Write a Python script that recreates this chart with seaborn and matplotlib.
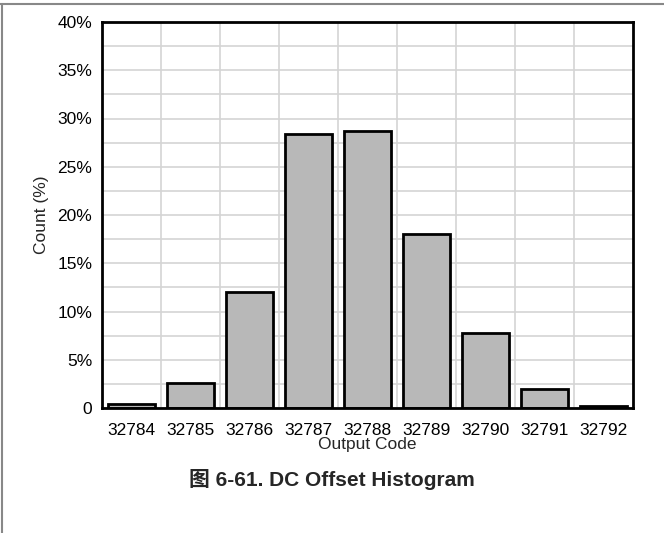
import numpy as np
import pandas as pd
import matplotlib
matplotlib.use('Agg')
import matplotlib.pyplot as plt
import seaborn as sns
from matplotlib.lines import Line2D
from matplotlib.ticker import FuncFormatter

# histogram data
codes = ['32784', '32785', '32786', '32787', '32788', '32789', '32790', '32791', '32792']
counts = [0.4, 2.6, 12.0, 28.4, 28.7, 18.0, 7.8, 2.0, 0.2]

df = pd.DataFrame({'code': codes, 'count': counts})

sns.set_style('white')
plt.rcParams['font.family'] = ['Liberation Sans', 'Noto Sans CJK SC', 'DejaVu Sans']

fig = plt.figure(figsize=(6.64, 5.33), dpi=100)
ax = fig.add_axes([102 / 664, 1 - 408 / 533, (633 - 102) / 664, (408 - 22) / 533])

sns.barplot(x='code', y='count', data=df, color='#b8b8b8', saturation=1,
            width=0.78, edgecolor='black', linewidth=2, ax=ax, zorder=3)

ax.set_xlim(-0.5, len(codes) - 0.5)
ax.set_ylim(0, 40)
ax.set_yticks(np.arange(0, 41, 5))
ax.set_yticks(np.arange(2.5, 40, 5), minor=True)
ax.set_xticks(np.arange(0.5, len(codes) - 1, 1), minor=True)
ax.yaxis.set_major_formatter(FuncFormatter(lambda v, p: '0' if v == 0 else f'{v:.0f}%'))

ax.grid(True, which='both', color='#d4d4d4', linewidth=1.2, zorder=0)
ax.xaxis.grid(False, which='major')
ax.set_axisbelow(True)
ax.tick_params(which='both', length=0)
ax.tick_params(axis='y', labelsize=12.5, colors='black', pad=7)
ax.tick_params(axis='x', labelsize=12.5, colors='black', pad=11)

for s in ax.spines.values():
    s.set_color('black')
    s.set_linewidth(2)
    s.set_zorder(5)

ax.set_xlabel('Output Code', fontsize=12.5, labelpad=-1)
ax.set_ylabel('Count (%)', fontsize=12.5, labelpad=6)

fig.text(0.5, 1 - 479 / 533, '图 6-61. DC Offset Histogram', ha='center', va='center',
         fontsize=15, fontweight='bold')

# page frame lines
fig.add_artist(Line2D([0, 1], [1 - 4 / 533, 1 - 4 / 533], color='#888888', linewidth=1.5,
                      transform=fig.transFigure))
fig.add_artist(Line2D([1.5 / 664, 1.5 / 664], [0, 1 - 4 / 533], color='#888888', linewidth=1.5,
                      transform=fig.transFigure))

fig.savefig('out.png', dpi=100)
